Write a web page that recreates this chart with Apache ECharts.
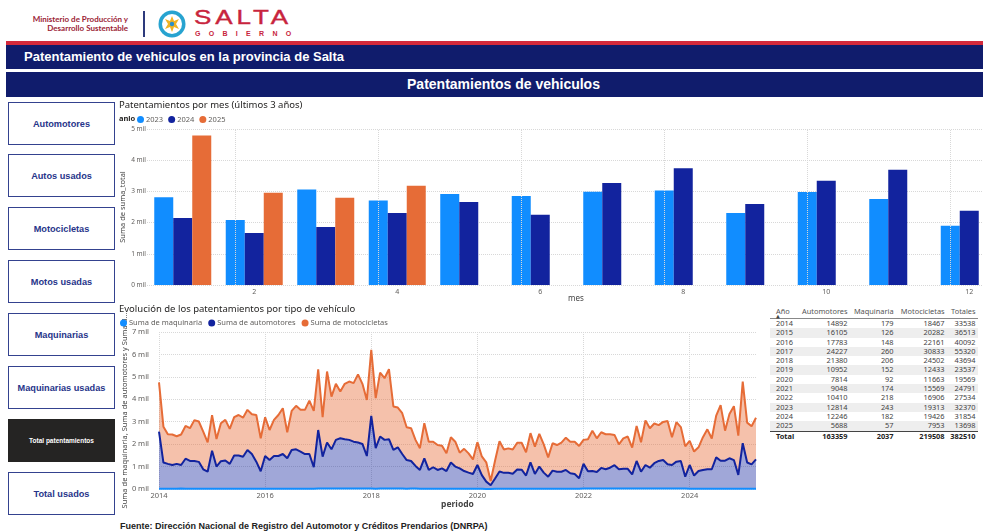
<!DOCTYPE html>
<html lang="es">
<head>
<meta charset="utf-8">
<title>Patentamiento de vehiculos en la provincia de Salta</title>
<script src="https://cdn.jsdelivr.net/npm/echarts@6/dist/echarts.min.js"></script>
<style>
  html, body { margin: 0; padding: 0; background: #fff; }
  body { width: 983px; height: 531px; position: relative; overflow: hidden; font-family: "Liberation Sans", Arial, sans-serif; }
  .abs { position: absolute; }
  #ministerio { left: 8px; top: 15px; width: 120px; text-align: right; font: bold 8px/8.5px Lato, sans-serif; color: #9b2335; }
  #sep { left: 143px; top: 11px; width: 2px; height: 26px; background: #2d3a7c; }
  #salta { left: 194px; top: 5px; font: 20px/24px "Liberation Sans", Arial, sans-serif; color: #c8243d; letter-spacing: 3px; transform: scaleX(1.3); transform-origin: left top; -webkit-text-stroke: 0.4px #c8243d; }
  #gobierno { left: 195px; top: 30px; font: bold 7px/7px "Liberation Sans", Arial, sans-serif; color: #c8243d; letter-spacing: 8.3px; }
  #stripe { left: 6px; top: 41px; width: 977px; height: 4px; background: #d42a3c; }
  .band { left: 6px; width: 977px; background: #101c6c; color: #fff; font-weight: bold; }
  #band1 { top: 45px; height: 24px; font-size: 13px; line-height: 24px; padding-left: 18px; box-sizing: border-box; }
  #band2 { top: 72px; height: 25px; font-size: 14px; line-height: 25px; text-align: center; padding-left: 18px; box-sizing: border-box; }
  .btn { left: 8px; width: 107px; height: 43px; box-sizing: border-box; border: 1.5px solid #34428f; display: flex; align-items: center; justify-content: center; font: bold 9.2px "Liberation Sans", Arial, sans-serif; color: #27358a; background: #fff; }
  .btn.dark { background: #252423; color: #fff; font-size: 6.5px; border-color: #252423; }
  #tabla { left: 770px; top: 305px; border-collapse: collapse; table-layout: fixed; font: 7.4px "Noto Sans", sans-serif; color: #444; }
  #tabla td, #tabla th { padding: 0 2px; height: 9.3px; line-height: 9.3px; white-space: nowrap; font-weight: normal; overflow: hidden; }
  #tabla th { height: 13px; line-height: 12px; color: #555; border-bottom: 1px solid #888; vertical-align: top; }
  #tabla .num { text-align: right; }
  #tabla .izq { text-align: left; padding-left: 6px; }
  #tabla tr.sombra td { background: #eeeeee; }
  #tabla tr.total td { font-weight: bold; color: #222; border-top: 1px solid #444; }
  #flecha { left: 776px; top: 314px; font: 5px/5px "DejaVu Sans", sans-serif; color: #444; }
  #fuente { left: 120px; top: 521px; font: bold 9px "Liberation Sans", Arial, sans-serif; color: #222; white-space: nowrap; }
  #chart { position: absolute; left: 0; top: 0; width: 983px; height: 531px; z-index: 5; pointer-events: none; }
</style>
</head>
<body>
<div id="ministerio" class="abs">Ministerio de Producción y<br>Desarrollo Sustentable</div>
<div id="sep" class="abs"></div>
<svg class="abs" style="left:158px;top:10px" width="28" height="28">
  <circle cx="14" cy="14" r="13.5" fill="#27a3d0"/>
  <circle cx="14" cy="14" r="10" fill="#fff"/>
  <polygon points="14,6 16,11 21,9 18,14 21,19 16,17 14,22 12,17 7,19 10,14 7,9 12,11" fill="#f0b323"/>
  <circle cx="14" cy="14" r="2.2" fill="#2a8fc9"/>
</svg>
<div id="salta" class="abs">SALTA</div>
<div id="gobierno" class="abs">GOBIERNO</div>
<div id="stripe" class="abs"></div>
<div id="band1" class="abs band">Patentamiento de vehiculos en la provincia de Salta</div>
<div id="band2" class="abs band">Patentamientos de vehiculos</div>
<div id="botones"></div>
<table id="tabla" class="abs"></table>
<div id="flecha" class="abs">▲</div>
<div id="fuente" class="abs">Fuente: Dirección Nacional de Registro del Automotor y Créditos Prendarios (DNRPA)</div>
<div id="chart"></div>
<script>
// botones de la izquierda
const botones = ['Automotores', 'Autos usados', 'Motocicletas', 'Motos usadas', 'Maquinarias', 'Maquinarias usadas', 'Total patentamientos', 'Total usados'];
const botonesTop = [102, 154, 207, 260, 313, 366, 419, 472];

// grafico de barras: patentamientos por mes (ultimos 3 años)
const meses = ['1', '2', '3', '4', '5', '6', '7', '8', '9', '10', '11', '12'];
const mesesPares = ['2', '4', '6', '8', '10', '12'];
const anios = ['2023', '2024', '2025'];
const total2023 = [2810, 2080, 3060, 2710, 2920, 2850, 2990, 3030, 2310, 2980, 2760, 1900];
const total2024 = [2150, 1670, 1860, 2310, 2660, 2250, 3270, 3740, 2600, 3340, 3690, 2380];
const total2025 = [4790, 2960, 2800, 3180];

// grafico de areas: evolucion mensual por tipo (ene 2014 - abr 2025)
const maquinaria = [
  15, 14, 16, 15, 13, 17, 15, 14, 16, 15, 14, 15,
  10, 11, 9, 10, 12, 10, 11, 10, 11, 12, 10, 10,
  12, 13, 11, 12, 14, 12, 13, 12, 13, 12, 12, 13,
  22, 20, 23, 21, 24, 22, 21, 22, 23, 21, 22, 19,
  18, 16, 19, 17, 18, 17, 18, 17, 16, 17, 18, 15,
  13, 12, 14, 12, 13, 12, 14, 13, 12, 13, 12, 12,
  8, 7, 5, 3, 6, 8, 9, 8, 9, 10, 10, 9,
  14, 13, 15, 14, 13, 15, 15, 14, 16, 15, 15, 15,
  18, 17, 19, 18, 19, 18, 18, 19, 18, 18, 19, 17,
  20, 19, 21, 20, 21, 20, 22, 20, 19, 21, 20, 20,
  15, 14, 16, 15, 16, 15, 16, 15, 15, 15, 15, 15,
  14, 14, 15, 14
];
const automotores = [
  2545, 1166, 1104, 1055, 1107, 1053, 1335, 1236, 1234, 1195, 866, 755,
  1700, 989, 1231, 1260, 1108, 1480, 1479, 1430, 1729, 1548, 1210, 780,
  1458, 1277, 1459, 1458, 1546, 1358, 1727, 1758, 1657, 1548, 1548, 957,
  2608, 1420, 2047, 1749, 2166, 2238, 2199, 2168, 2087, 2049, 1988, 1451,
  3242, 1804, 2321, 2173, 2202, 1723, 1842, 1543, 1274, 1233, 1012, 835,
  1357, 838, 956, 838, 907, 788, 1166, 987, 908, 787, 718, 658,
  1062, 613, 325, 167, 464, 772, 711, 712, 671, 860, 850, 591,
  1176, 657, 985, 716, 537, 805, 755, 756, 834, 685, 655, 465,
  1102, 773, 781, 742, 921, 862, 932, 1041, 862, 882, 881, 633,
  1230, 751, 1049, 930, 1129, 1230, 1268, 1080, 1051, 1199, 1230, 530,
  1055, 586, 784, 835, 864, 865, 1394, 1245, 1245, 1355, 1275, 615,
  2026, 1166, 1085, 1306
];
const motocicletas = [
  2190, 1600, 1320, 1360, 1230, 1360, 1460, 1460, 1820, 1800, 1680, 1310,
  1580, 1230, 1690, 1810, 1560, 1710, 1810, 1740, 1790, 1770, 2080, 1470,
  1730, 1340, 1610, 1830, 2040, 1160, 1740, 1940, 1860, 1970, 2380, 2510,
  2710, 1760, 3170, 2350, 2500, 2090, 2470, 2600, 2610, 3040, 2680, 2500,
  2950, 2230, 2850, 2750, 3120, 1940, 1770, 1820, 1460, 1460, 1160, 970,
  1560, 1260, 1140, 1110, 1010, 790, 1130, 1110, 700, 990, 860, 650,
  1020, 830, 860, 190, 800, 1350, 1040, 1090, 1080, 1190, 1200, 1040,
  1300, 1220, 1460, 1260, 860, 1220, 1190, 1300, 1440, 1410, 1440, 1440,
  1070, 1430, 1800, 1500, 1590, 1560, 1490, 1350, 1110, 1360, 1440, 1200,
  1560, 1310, 1990, 1760, 1770, 1600, 1700, 1930, 1240, 1760, 1510, 1350,
  1080, 1070, 1060, 1460, 1780, 1370, 1860, 2480, 1340, 1970, 2400, 1750,
  2750, 1780, 1700, 1860
];

// tabla anual
const tablaAnios = ['2014', '2015', '2016', '2017', '2018', '2019', '2020', '2021', '2022', '2023', '2024', '2025'];
const tablaAutomotores = [14892, 16105, 17783, 24227, 21380, 10952, 7814, 9048, 10410, 12814, 12246, 5688];
const tablaMaquinaria = [179, 126, 148, 260, 206, 152, 92, 174, 218, 243, 182, 57];
const tablaMotocicletas = [18467, 20282, 22161, 30833, 24502, 12433, 11663, 15569, 16906, 19313, 19426, 7953];
const tablaTotales = [33538, 36513, 40092, 55320, 43694, 23537, 19569, 24791, 27534, 32370, 31854, 13698];
const tablaTotal = ['Total', 163359, 2037, 219508, 382510];

// ---- botones
const contBotones = document.getElementById('botones');
botones.forEach((b, i) => {
  const d = document.createElement('div');
  d.className = 'abs btn' + (b === 'Total patentamientos' ? ' dark' : '');
  d.style.top = botonesTop[i] + 'px';
  d.textContent = b;
  contBotones.appendChild(d);
});

// ---- tabla
const tabla = document.getElementById('tabla');
let html = '<colgroup><col style="width:30px"><col style="width:49px"><col style="width:46px"><col style="width:51px"><col style="width:31px"></colgroup>';
html += '<tr><th class="izq">Año</th><th class="num">Automotores</th><th class="num">Maquinaria</th><th class="num">Motocicletas</th><th class="num">Totales</th></tr>';
tablaAnios.forEach((a, i) => {
  html += '<tr' + (i % 2 === 1 ? ' class="sombra"' : '') + '><td class="izq">' + a + '</td><td class="num">' + tablaAutomotores[i] +
    '</td><td class="num">' + tablaMaquinaria[i] + '</td><td class="num">' + tablaMotocicletas[i] + '</td><td class="num">' + tablaTotales[i] + '</td></tr>';
});
html += '<tr class="total"><td class="izq">' + tablaTotal[0] + '</td><td class="num">' + tablaTotal[1] + '</td><td class="num">' + tablaTotal[2] +
  '</td><td class="num">' + tablaTotal[3] + '</td><td class="num">' + tablaTotal[4] + '</td></tr>';
tabla.innerHTML = html;

// ---- periodos del eje x (mensual desde 2014-01)
const periodos = [];
for (let y = 2014; y <= 2025; y++) {
  for (let m = 1; m <= 12; m++) {
    if (periodos.length < automotores.length) periodos.push(y + '-' + String(m).padStart(2, '0'));
  }
}

const chart = echarts.init(document.getElementById('chart'), null, { renderer: 'canvas' });
const gris = '#605e5c';
const mil = v => (v / 1000) + ' mil';

const option = {
  animation: false,
  backgroundColor: 'transparent',
  textStyle: { fontFamily: 'Noto Sans' },
  title: [
    { text: 'Patentamientos por mes (últimos 3 años)', left: 119, top: 100, padding: 0,
      textStyle: { fontSize: 9.5, fontWeight: 'normal', color: '#252423' } },
    { text: 'Evolución de los patentamientos por tipo de vehículo', left: 119, top: 304, padding: 0,
      textStyle: { fontSize: 9.5, fontWeight: 'normal', color: '#252423' } }
  ],
  graphic: [
    { type: 'text', left: 119, top: 115, style: { text: 'anio', fontSize: 7.5, fontWeight: 'bold', fill: '#252423', fontFamily: 'Noto Sans' } }
  ],
  legend: [
    { data: anios, left: 137, top: 115.5, padding: 0, icon: 'circle', itemWidth: 7, itemHeight: 7, itemGap: 5,
      textStyle: { fontSize: 7.5, color: gris, padding: [0, 0, 0, -3] } },
    { data: ['Suma de maquinaria', 'Suma de automotores', 'Suma de motocicletas'], left: 120, top: 319, padding: 0,
      icon: 'circle', itemWidth: 7, itemHeight: 7, itemGap: 6, textStyle: { fontSize: 7.5, color: gris, padding: [0, 0, 0, -3] } }
  ],
  grid: [
    { left: 147, top: 129, width: 858, height: 156, outerBoundsMode: 'none', containLabel: false },
    { left: 159, top: 332, width: 597, height: 157, outerBoundsMode: 'none', containLabel: false }
  ],
  xAxis: [
    { gridIndex: 0, type: 'category', data: meses, name: 'mes', nameLocation: 'middle', nameGap: 10, nameMoveOverlap: false,
      nameTextStyle: { fontSize: 8, color: '#444' },
      axisLine: { show: false }, axisTick: { show: false },
      axisLabel: { fontSize: 7, color: gris, margin: 3, interval: (i) => i % 2 === 1 },
      splitLine: { show: false } },
    { gridIndex: 1, type: 'category', data: periodos, boundaryGap: false, name: 'periodo', nameLocation: 'middle', nameGap: 11,
      nameMoveOverlap: false,
      nameTextStyle: { fontSize: 8.5, fontWeight: 'bold', color: '#444' },
      axisLine: { show: false }, axisTick: { show: false },
      axisLabel: { fontSize: 7.5, color: gris, margin: 3, interval: (i) => i % 24 === 0, formatter: v => v.slice(0, 4) },
      splitLine: { show: true, interval: (i) => i % 24 === 0, lineStyle: { color: '#d8d8d8', type: 'dotted' } } }
  ],
  yAxis: [
    { gridIndex: 0, type: 'value', min: 0, max: 5000, interval: 1000, name: 'Suma de suma_total', nameLocation: 'middle', nameGap: 20,
      nameMoveOverlap: false,
      nameTextStyle: { fontSize: 7.5, color: '#444' },
      axisLabel: { fontSize: 6.5, color: gris, margin: 1, formatter: mil },
      splitLine: { lineStyle: { color: '#d8d8d8', type: 'dotted' } } },
    { gridIndex: 1, type: 'value', min: 0, max: 7000, interval: 1000,
      name: 'Suma de maquinaria, Suma de automotores y Suma d...', nameLocation: 'middle', nameGap: 30,
      nameMoveOverlap: false,
      nameTextStyle: { fontSize: 7.5, color: '#444' },
      axisLabel: { fontSize: 7.5, color: gris, margin: 10, formatter: mil },
      splitLine: { lineStyle: { color: '#d8d8d8', type: 'dotted' } } }
  ],
  series: [
    { name: '2023', type: 'bar', xAxisIndex: 0, yAxisIndex: 0, data: total2023, barWidth: 19, barGap: '0%',
      itemStyle: { color: '#118DFF' },
      markLine: { silent: true, symbol: 'none', label: { show: false },
        lineStyle: { color: '#d8d8d8', type: 'dotted', width: 1 },
        data: mesesPares.map(m => ({ xAxis: m })) } },
    { name: '2024', type: 'bar', xAxisIndex: 0, yAxisIndex: 0, data: total2024, barWidth: 19, barGap: '0%',
      itemStyle: { color: '#12239E' } },
    { name: '2025', type: 'bar', xAxisIndex: 0, yAxisIndex: 0, data: total2025, barWidth: 19, barGap: '0%',
      itemStyle: { color: '#E66C37' } },
    { name: 'Suma de maquinaria', type: 'line', xAxisIndex: 1, yAxisIndex: 1, stack: 'total', data: maquinaria,
      symbol: 'none', lineStyle: { width: 2, color: '#118DFF' }, itemStyle: { color: '#118DFF' },
      areaStyle: { color: '#118DFF', opacity: 0.42 } },
    { name: 'Suma de automotores', type: 'line', xAxisIndex: 1, yAxisIndex: 1, stack: 'total', data: automotores,
      symbol: 'none', lineStyle: { width: 2, color: '#12239E' }, itemStyle: { color: '#12239E' },
      areaStyle: { color: '#12239E', opacity: 0.4 } },
    { name: 'Suma de motocicletas', type: 'line', xAxisIndex: 1, yAxisIndex: 1, stack: 'total', data: motocicletas,
      symbol: 'none', lineStyle: { width: 2, color: '#E66C37' }, itemStyle: { color: '#E66C37' },
      areaStyle: { color: '#E66C37', opacity: 0.42 } }
  ]
};
chart.setOption(option);
</script>
</body>
</html>
